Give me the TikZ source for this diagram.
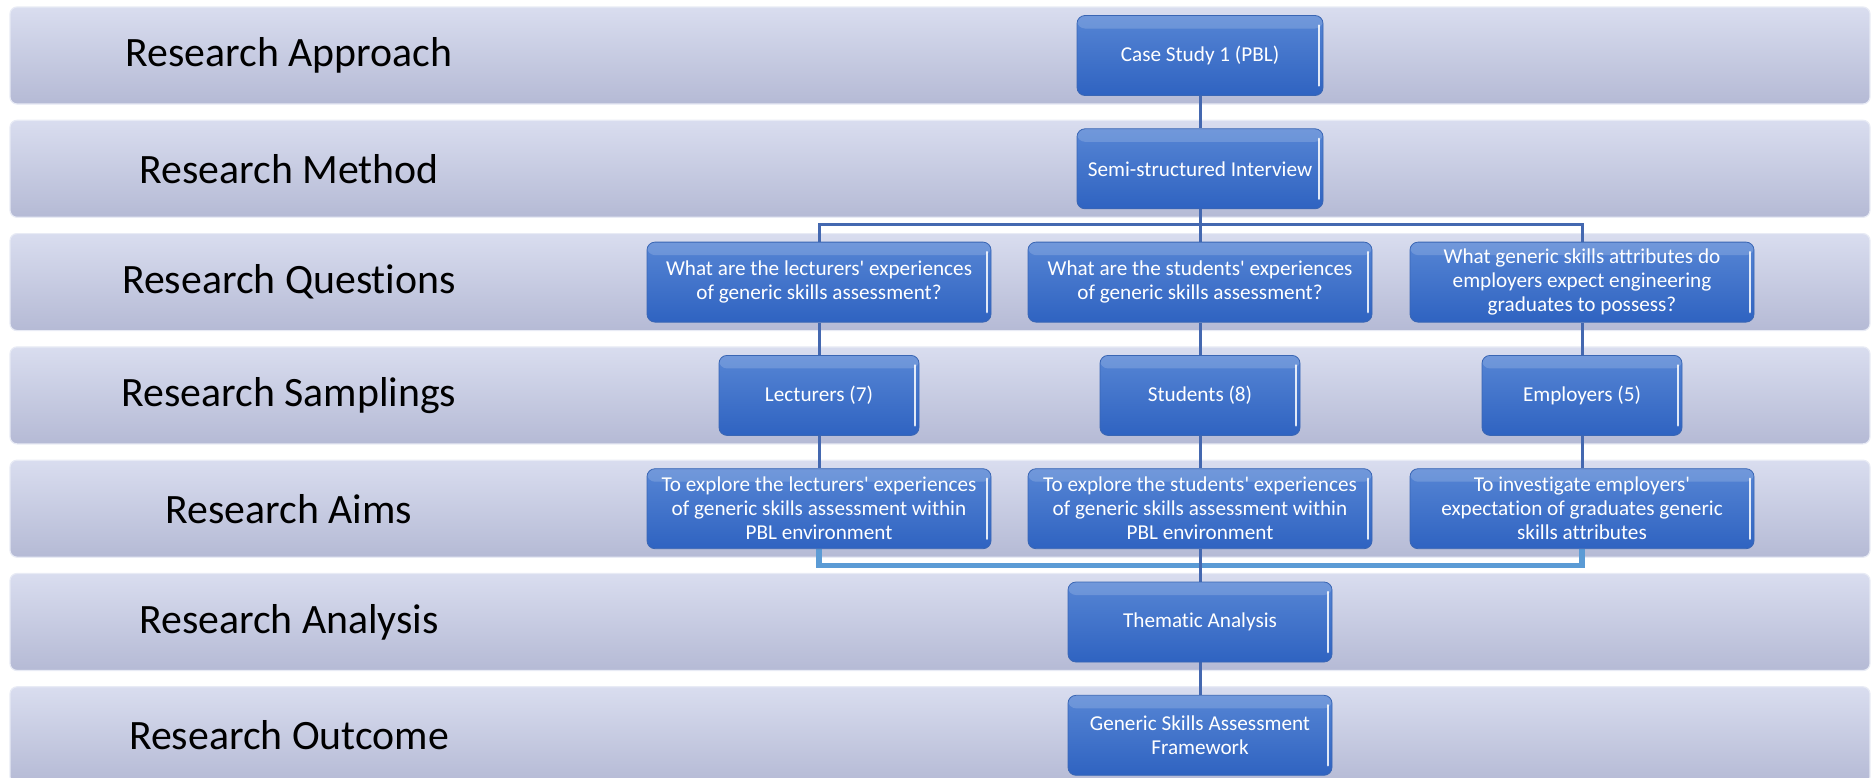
\documentclass[tikz,border=0pt]{standalone}
\usepackage{fontspec}
\setmainfont[Ligatures=NoCommon]{Carlito}
\usetikzlibrary{calc}

\definecolor{bandtop}{HTML}{D9DDEF}
\definecolor{bandbot}{HTML}{B5BAD5}
\definecolor{bandedge}{HTML}{E8EBF5}
\definecolor{boxtop}{HTML}{5685D4}
\definecolor{boxbot}{HTML}{2F63C1}
\definecolor{boxedge}{HTML}{3A66B4}
\definecolor{linkdark}{HTML}{4468B0}
\definecolor{linklight}{HTML}{5B9BD5}

\newcommand{\apos}{\textquotesingle}

\pgfdeclarelayer{back}
\pgfdeclarelayer{mid}
\pgfsetlayers{back,mid,main}

\begin{document}
\begin{tikzpicture}[x=1pt,y=-1pt,
  band/.style={rectangle, rounded corners=7pt, minimum width=1860, minimum height=97,
    draw=bandedge, line width=1.2pt, top color=bandtop, bottom color=bandbot, inner sep=0},
  rowlabel/.style={font=\fontsize{41.8}{50}\selectfont, text=black, inner sep=0},
  bluebox/.style={rectangle, rounded corners=8pt, draw=boxedge, line width=0.8pt,
    top color=boxtop, bottom color=boxbot, text=white,
    font=\fontsize{21.2}{24}\selectfont, align=center, inner sep=0, minimum height=80,
    path picture={
      \fill[white,opacity=0.16] (path picture bounding box.north west)
        rectangle ($(path picture bounding box.north east)+(0,13)$);
      \draw[white,line width=2.5pt,opacity=0.85,line cap=round]
        ($(path picture bounding box.north east)+(-4,10)$) --
        ($(path picture bounding box.south east)+(-4,-10)$);
    }},
  wide/.style={bluebox, minimum width=344},
  narrow/.style={bluebox, minimum width=200},
  mainbox/.style={bluebox, minimum width=246},
  lowbox/.style={bluebox, minimum width=264},
  darklink/.style={draw=linkdark, line width=3pt, line join=miter},
  lightlink/.style={draw=linklight, line width=5.5pt, line join=miter}
]
\useasboundingbox (0,0) rectangle (1872,777);

% horizontal bands with their row titles
\begin{pgfonlayer}{back}
\foreach \i/\t in {1/Research Approach, 2/Research Method, 3/Research Questions,
                   4/Research Samplings, 5/Research Aims, 6/Research Analysis,
                   7/Research Outcome} {
  \node[band] (b\i) at (940,{55.5+113.3*(\i-1)}) {};
  \node[rowlabel] (l\i) at (289,{55.5+113.3*(\i-1)}) {\t};
}
\end{pgfonlayer}

% column positions
\coordinate (cL) at (819,0);
\coordinate (cM) at (1200,0);
\coordinate (cR) at (1582,0);

% boxes
\node[mainbox] (cs)  at (cM |- b1) {Case Study 1 (PBL)};
\node[mainbox] (ssi) at (cM |- b2) {Semi-structured Interview};

\node[wide] (q1) at (cL |- b3) {What are the lecturers\apos{} experiences\\of generic skills assessment?};
\node[wide] (q2) at (cM |- b3) {What are the students\apos{} experiences\\of generic skills assessment?};
\node[wide] (q3) at (cR |- b3) {What generic skills attributes do\\employers expect engineering\\graduates to possess?};

\node[narrow] (s1) at (cL |- b4) {Lecturers (7)};
\node[narrow] (s2) at (cM |- b4) {Students (8)};
\node[narrow] (s3) at (cR |- b4) {Employers (5)};

\node[wide] (a1) at (cL |- b5) {To explore the lecturers\apos{} experiences\\of generic skills assessment within\\PBL environment};
\node[wide] (a2) at (cM |- b5) {To explore the students\apos{} experiences\\of generic skills assessment within\\PBL environment};
\node[wide] (a3) at (cR |- b5) {To investigate employers\apos\\expectation of graduates generic\\skills attributes};

\node[lowbox] (th) at (cM |- b6) {Thematic Analysis};
\node[lowbox] (gs) at (cM |- b7) {Generic Skills Assessment\\Framework};

% connectors
\begin{pgfonlayer}{mid}
\coordinate (busT) at (1200,224);
\coordinate (busB) at (1200,565.5);
\draw[darklink] (cs) -- (ssi);
\draw[darklink] (ssi) -- (q2);
\draw[darklink] (q1.north) |- (busT) -| (q3.north);
\foreach \i in {1,2,3} {
  \draw[darklink] (q\i) -- (s\i);
  \draw[darklink] (s\i) -- (a\i);
}
\draw[lightlink] (a1.south) |- (busB) -| (a3.south);
\draw[darklink] (a2) -- (th);
\draw[darklink] (th) -- (gs);
\end{pgfonlayer}
\end{tikzpicture}
\end{document}
